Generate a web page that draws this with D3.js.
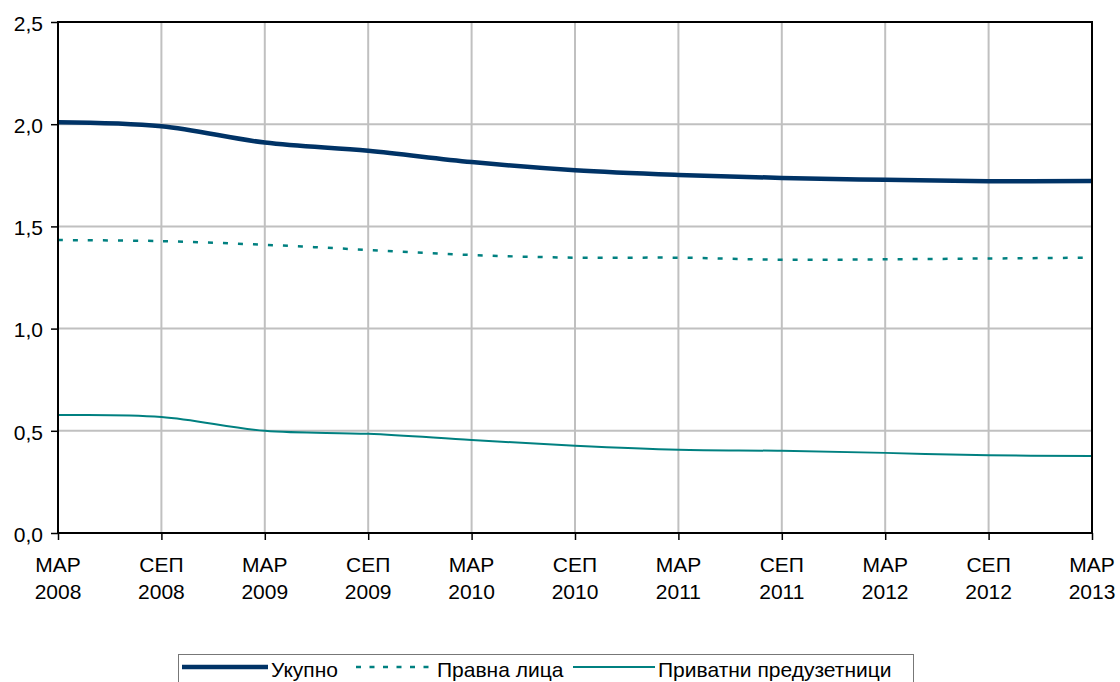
<!DOCTYPE html>
<html>
<head>
<meta charset="utf-8">
<script src="https://cdn.jsdelivr.net/npm/d3@7/dist/d3.min.js"></script>
<style>
	body { margin: 0; background: #fff; }
	svg text { font-family: "Liberation Sans", Arial, sans-serif; font-size: 21px; fill: #000; }
</style>
</head>
<body>
<svg id="chart" width="1120" height="682"></svg>
<script>
const months = ['МАР', 'СЕП', 'МАР', 'СЕП', 'МАР', 'СЕП', 'МАР', 'СЕП', 'МАР', 'СЕП', 'МАР'];
const years = ['2008', '2008', '2009', '2009', '2010', '2010', '2011', '2011', '2012', '2012', '2013'];
const ukupno = [2.01, 1.99, 1.91, 1.87, 1.815, 1.775, 1.752, 1.737, 1.728, 1.721, 1.722];
const pravnaLica = [1.433, 1.428, 1.41, 1.385, 1.36, 1.347, 1.347, 1.337, 1.339, 1.343, 1.347];
const privatni = [0.577, 0.568, 0.5, 0.485, 0.455, 0.427, 0.407, 0.402, 0.392, 0.38, 0.377];
const yTicks = [0, 0.5, 1.0, 1.5, 2.0, 2.5];

const series = [
	{ name: 'Укупно', values: ukupno, color: '#003366', width: 4.5, dash: null },
	{ name: 'Правна лица', values: pravnaLica, color: '#008080', width: 2.5, dash: '5,10' },
	{ name: 'Приватни предузетници', values: privatni, color: '#008080', width: 2, dash: null }
];

const svg = d3.select('#chart');
const plotLeft = 58, plotRight = 1092, plotTop = 22, plotBottom = 533;

const x = d3.scaleLinear().domain([0, months.length - 1]).range([plotLeft, plotRight]);
const y = d3.scaleLinear().domain([0, 2.5]).range([plotBottom, plotTop]);

// grid
svg.append('g')
	.selectAll('line')
	.data(d3.range(1, months.length - 1))
	.enter()
	.append('line')
	.attr('x1', d => x(d)).attr('x2', d => x(d))
	.attr('y1', plotTop).attr('y2', plotBottom)
	.style('stroke', '#c0c0c0').style('stroke-width', 2);

svg.append('g')
	.selectAll('line')
	.data(yTicks.slice(1, -1))
	.enter()
	.append('line')
	.attr('x1', plotLeft).attr('x2', plotRight)
	.attr('y1', d => y(d)).attr('y2', d => y(d))
	.style('stroke', '#c0c0c0').style('stroke-width', 2);

// axes
const yAxis = svg.append('g')
	.attr('transform', `translate(${plotLeft},0)`)
	.call(d3.axisLeft(y).tickValues(yTicks).tickSize(7).tickPadding(8)
		.tickFormat(d => d3.format('.1f')(d).replace('.', ',')));
yAxis.select('.domain').remove();
yAxis.selectAll('line').style('stroke', '#000').style('stroke-width', 1.5);
yAxis.selectAll('text').attr('dy', '0.35em').attr('y', 1);

const xAxis = svg.append('g')
	.attr('transform', `translate(0,${plotBottom})`)
	.call(d3.axisBottom(x).tickValues(d3.range(months.length)).tickSize(7).tickFormat(''));
xAxis.select('.domain').remove();
xAxis.selectAll('line').style('stroke', '#000').style('stroke-width', 1.5);

const xl = svg.append('g')
	.selectAll('text')
	.data(months)
	.enter()
	.append('text')
	.attr('text-anchor', 'middle')
	.attr('x', (d, i) => x(i))
	.attr('y', 572);
xl.append('tspan').attr('x', (d, i) => x(i)).text(d => d);
xl.append('tspan').attr('x', (d, i) => x(i)).attr('dy', 26.5).text((d, i) => years[i]);

// lines
const line = d3.line()
	.x((d, i) => x(i))
	.y(d => y(d))
	.curve(d3.curveCatmullRom.alpha(0));

svg.append('g')
	.selectAll('path')
	.data(series)
	.enter()
	.append('path')
	.attr('d', d => line(d.values))
	.style('fill', 'none')
	.style('stroke', d => d.color)
	.style('stroke-width', d => d.width)
	.style('stroke-dasharray', d => d.dash);

// frame
svg.append('rect')
	.attr('x', plotLeft).attr('y', plotTop)
	.attr('width', plotRight - plotLeft).attr('height', plotBottom - plotTop)
	.style('fill', 'none').style('stroke', '#000').style('stroke-width', 2);

// legend
const legend = svg.append('g');
legend.append('rect')
	.attr('x', 178.5).attr('y', 654.5).attr('width', 735).attr('height', 40)
	.style('fill', '#fff').style('stroke', '#777').style('stroke-width', 1);

const legendItems = [
	{ s: series[0], x1: 182, x2: 268, tx: 271 },
	{ s: series[1], x1: 356, x2: 433, tx: 437 },
	{ s: series[2], x1: 573, x2: 655, tx: 658 }
];
legendItems.forEach(it => {
	legend.append('line')
		.attr('x1', it.x1).attr('x2', it.x2).attr('y1', 667).attr('y2', 667)
		.style('stroke', it.s.color)
		.style('stroke-width', it.s.width)
		.style('stroke-dasharray', it.s.dash ? '5,8.5' : null);
	legend.append('text')
		.attr('x', it.tx).attr('y', 677)
		.text(it.s.name);
});
</script>
</body>
</html>
